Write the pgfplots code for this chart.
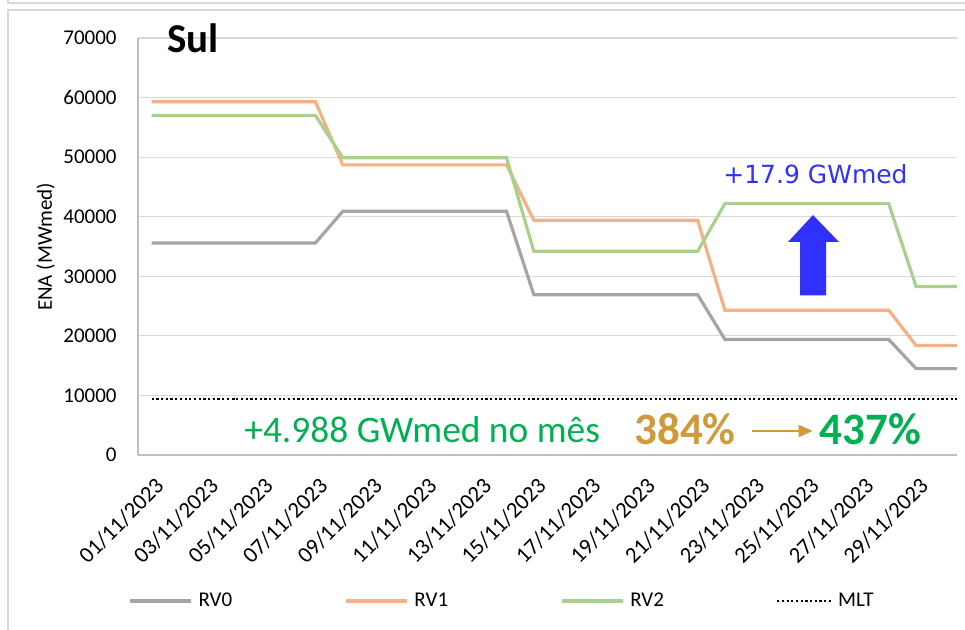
\documentclass[border=0pt]{standalone}
\usepackage{fontspec}
\setmainfont{Carlito}
\newfontfamily\dejavu{DejaVu Sans}
\usepackage{pgfplots}
\usepackage{pgfplotstable}
\pgfplotsset{compat=1.18}
\usetikzlibrary{arrows.meta}
\definecolor{cRVzero}{HTML}{A5A5A5}
\definecolor{cRVone}{HTML}{F4B183}
\definecolor{cRVtwo}{HTML}{A9D18E}
\definecolor{cgrid}{HTML}{D9D9D9}
\definecolor{caxis}{HTML}{BFBFBF}
\definecolor{cblue}{HTML}{3030FF}
\definecolor{cgreen}{HTML}{00B050}
\definecolor{cgold}{HTML}{D09A3A}
\pgfplotsset{shortlegend/.style={legend image code/.code={\draw[##1] (0pt,0pt) -- (27pt,0pt);}}}

\pgfplotstableread{
day rv0 rv1 rv2 mlt
1 35600 59300 57000 9400
2 35600 59300 57000 9400
3 35600 59300 57000 9400
4 35600 59300 57000 9400
5 35600 59300 57000 9400
6 35600 59300 57000 9400
7 35600 59300 57000 9400
8 40900 48700 49900 9400
9 40900 48700 49900 9400
10 40900 48700 49900 9400
11 40900 48700 49900 9400
12 40900 48700 49900 9400
13 40900 48700 49900 9400
14 40900 48700 49900 9400
15 26900 39400 34200 9400
16 26900 39400 34200 9400
17 26900 39400 34200 9400
18 26900 39400 34200 9400
19 26900 39400 34200 9400
20 26900 39400 34200 9400
21 26900 39400 34200 9400
22 19400 24300 42200 9400
23 19400 24300 42200 9400
24 19400 24300 42200 9400
25 19400 24300 42200 9400
26 19400 24300 42200 9400
27 19400 24300 42200 9400
28 19400 24300 42200 9400
29 14500 18400 28300 9400
30 14500 18400 28300 9400
31 14500 18400 28300 9400
}\data

\begin{document}
\begin{tikzpicture}
\useasboundingbox (0,0) rectangle (482.5pt,315pt);
\clip (0,0) rectangle (482.5pt,315pt);
\draw[cgrid, line width=0.75pt] (4pt,-5pt) -- (4pt,310pt) -- (490pt,310pt);
\draw[cgrid, line width=0.75pt] (4pt,320pt) -- (4pt,313.5pt) -- (490pt,313.5pt);
\begin{axis}[
  at={(69pt,87.5pt)}, anchor=south west,
  scale only axis, width=409.5pt, height=208.5pt,
  xmin=0.5, xmax=30.5, ymin=0, ymax=70000,
  ytick={0,10000,...,70000},
  scaled y ticks=false,
  xtick={1,3,...,29},
  xticklabels={01/11/2023,03/11/2023,05/11/2023,07/11/2023,09/11/2023,11/11/2023,13/11/2023,15/11/2023,17/11/2023,19/11/2023,21/11/2023,23/11/2023,25/11/2023,27/11/2023,29/11/2023},
  axis x line=bottom, axis y line=left,
  axis line style={caxis, line width=0.6pt, -},
  major tick length=0pt,
  tick style={draw=none},
  ymajorgrids, grid style={cgrid, line width=0.6pt},
  /pgf/number format/.cd, 1000 sep={}, assume math mode=true, /pgfplots/.cd,
  tick label style={font=\fontsize{10.5}{12}\selectfont},
  yticklabel style={anchor=east, inner sep=0pt, xshift=-10.5pt},
  xticklabel style={font=\fontsize{11.3}{13}\selectfont, xshift=4.25pt, yshift=-13.5pt, rotate=45, anchor=east, inner sep=0pt},
  ylabel={ENA (MWmed)},
  ylabel style={at={(axis description cs:-0.1129,0.4988)}, anchor=center, rotate=0, font=\fontsize{10.5}{12}\selectfont},
  legend columns=4,
  legend style={draw=none, fill=none, inner sep=0pt,
    at={(axis description cs:-0.0122,-0.3501)}, anchor=west,
    nodes={inner sep=0pt, font=\fontsize{10.5}{12}\selectfont},
    /tikz/every odd column/.append style={column sep=3pt},
    /tikz/every even column/.append style={column sep=56pt}},
  legend image code/.code={\draw[#1] (0pt,0pt) -- (30.5pt,0pt);},
]
\addplot[cRVzero, line width=1.6pt] table[x=day,y=rv0]{\data};
\addlegendentry{RV0}
\addplot[cRVone, line width=1.6pt] table[x=day,y=rv1]{\data};
\addlegendentry{RV1}
\addplot[cRVtwo, line width=1.6pt] table[x=day,y=rv2]{\data};
\addlegendentry{RV2}
\addplot[black, line width=1.1pt, dash pattern=on 1.1pt off 1.25pt, shortlegend] table[x=day,y=mlt]{\data};
\addlegendentry{MLT}
\end{axis}
\node[anchor=base west, inner sep=0pt, font=\fontsize{20.5}{24}\selectfont\bfseries] at (83.5pt,288.5pt) {Sul};
\node[anchor=center, inner sep=0pt, text=cblue, font=\dejavu\fontsize{12.5}{15}\selectfont] at (407.75pt,228pt) {+17.9 GWmed};
\fill[cblue] (406.5pt,207.5pt) -- (419.5pt,194pt) -- (413pt,194pt) -- (413pt,167.25pt) -- (400pt,167.25pt) -- (400pt,194pt) -- (394pt,194pt) -- cycle;
\node[anchor=base west, inner sep=0pt, text=cgreen, font=\fontsize{18.7}{22}\selectfont] at (122pt,93.5pt) {+4.988 GWmed no mês};
\node[anchor=base west, inner sep=0pt, text=cgold, font=\fontsize{22.5}{26}\selectfont\bfseries] at (317pt,92.75pt) {384\%};
\draw[cgold, line width=1pt, -{Triangle[length=7pt,width=6pt]}] (375.85pt,99.5pt) -- (406.35pt,99.5pt);
\node[anchor=base west, inner sep=0pt, text=cgreen, font=\fontsize{22.5}{26}\selectfont\bfseries] at (409.65pt,92.75pt) {437\%};
\end{tikzpicture}
\end{document}
